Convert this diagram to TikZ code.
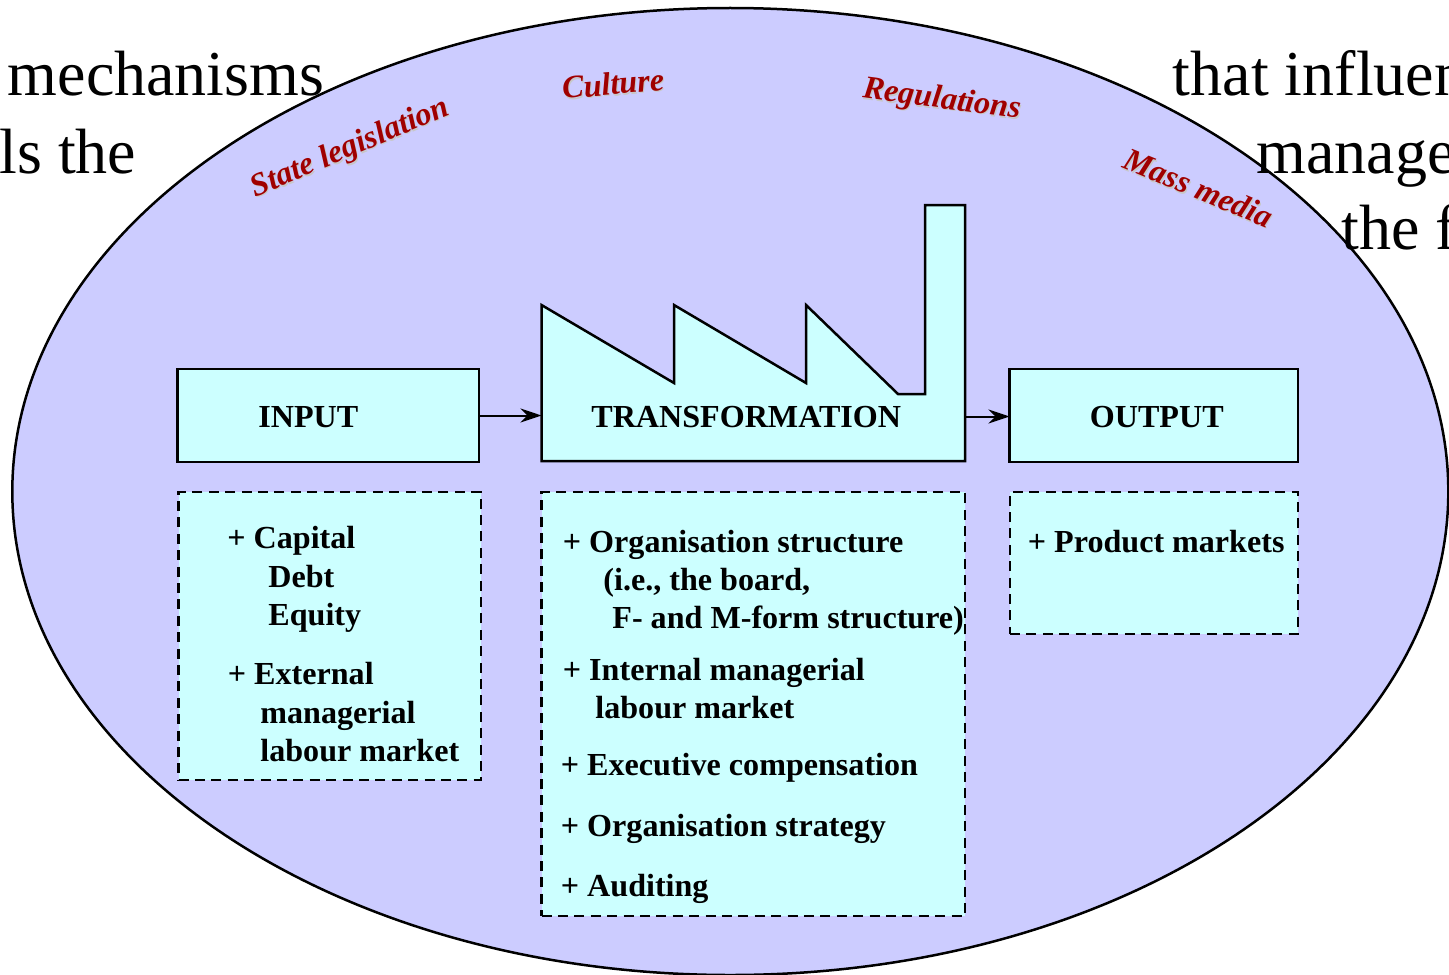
\documentclass[tikz,border=0pt]{standalone}
\usepackage{fontspec}
\setmainfont{Liberation Serif}
\usetikzlibrary{arrows.meta}
\definecolor{lavender}{HTML}{CCCCFF}
\definecolor{palecyan}{HTML}{CCFFFF}
\definecolor{darkred}{HTML}{A00000}
\tikzset{
  solidbox/.style={draw, line width=1.25pt, fill=palecyan, inner sep=0pt, outer sep=0pt},
  dashbox/.style={draw, line width=1.25pt, fill=palecyan, dash pattern=on 5pt off 3.2pt, inner sep=0pt, outer sep=0pt},
  lbl/.style={anchor=base west, inner sep=0pt, font=\bfseries\fontsize{16.05}{16}\selectfont},
  bigtext/.style={anchor=base west, inner sep=0pt, font=\fontsize{32}{32}\selectfont},
  forcetext/.style={inner sep=0pt, font=\bfseries\itshape\fontsize{16.1}{16}\selectfont},
  flow/.style={-{Stealth[length=10.5pt,width=7pt,inset=3.5pt]}, line width=1pt}
}
\begin{document}
\begin{tikzpicture}[x=0.5pt,y=-0.5pt]
\useasboundingbox (0,0) rectangle (1449,974);
\clip (0,0) rectangle (1449,974);

\draw [line width=1.25pt, fill=lavender] (730.3,491.5) ellipse [x radius=718, y radius=483.5];

\node [bigtext] (tl1) at (7.5,96) {mechanisms};
\node [bigtext] (tl2) at (-1,173) {ls the};
\node [bigtext] (tr1) at (1172.5,96) {that influen};
\node [bigtext] (tr2) at (1256,173) {manage};
\node [bigtext] (tr3) at (1341,249) {the f};

% outside forces
\foreach \n/\x/\y/\a/\t in {state/350.5/148.5/23/State legislation, culture/613/83.5/5/Culture, regs/942/100.5/-7.5/Regulations, media/1198.5/188/-22.5/Mass media}
{
\node [forcetext, rotate=\a, text=black!22] (\n s) at (\x+1,\y+1.5) {\t};
\node [forcetext, rotate=\a, text=darkred] (\n) at (\x,\y) {\t};
}

% factory
\draw [solidbox, line join=miter] (541.5,461) -- (541.5,305) -- (674,383) -- (674,305) -- (806,383) -- (806,305) -- (898,394) -- (925,394) -- (925,205) -- (965,205) -- (965,461) -- cycle;
\node [inner sep=0pt, outer sep=0pt, minimum width=211.75pt, minimum height=45.5pt] (factory) at (753.25,415.5) {};

\node [solidbox, minimum width=150.75pt, minimum height=46.5pt] (input) at (328.25,415.5) {};
\node [solidbox, minimum width=144.25pt, minimum height=46.5pt] (output) at (1153.75,415.5) {};

\draw [flow] (input.east) -- (factory.west);
\draw [flow] ([yshift=-0.5pt]factory.east) -- ([yshift=-0.5pt]output.west);

\node [lbl] (intitle) at (258,427) {INPUT};
\node [lbl] (factitle) at (591,427) {TRANSFORMATION};
\node [lbl] (outtitle) at (1089.5,427) {OUTPUT};

\node [dashbox, minimum width=151.25pt, minimum height=144pt] (inbox) at (329.75,636) {};
\node [dashbox, minimum width=211.75pt, minimum height=212pt] (facbox) at (753.25,704) {};
\node [dashbox, minimum width=144pt, minimum height=71pt] (outbox) at (1154,563) {};

\foreach \x/\y/\t in {227/548/+ Capital, 268/587/Debt, 268/625/Equity, 227.5/684/+ External, 260/723/managerial, 260/761/labour market,
  562.5/552/+ Organisation structure, 603/590/{(i.e., the board,}, 612/628/F- and M-form structure), 562.5/680/+ Internal managerial, 595/718/labour market,
  560.5/775/+ Executive compensation, 560.5/836/+ Organisation strategy, 560.5/896/+ Auditing, 1027.5/552/+ Product markets}
\node [lbl] at (\x,\y) {\t};
\end{tikzpicture}
\end{document}
